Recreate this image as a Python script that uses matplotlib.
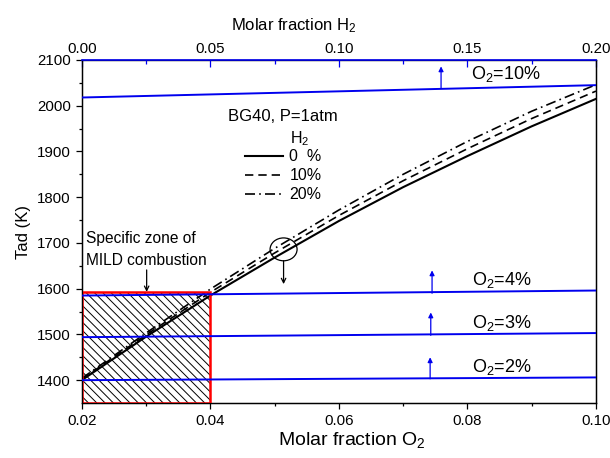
import numpy as np
import matplotlib
matplotlib.use("Agg")
import matplotlib.pyplot as plt
from matplotlib.patches import Rectangle, Ellipse
from matplotlib.lines import Line2D
from matplotlib.collections import LineCollection

plt.rcParams['font.family'] = ['Liberation Sans', 'DejaVu Sans']
plt.rcParams['mathtext.fontset'] = 'custom'
plt.rcParams['mathtext.rm'] = 'Liberation Sans'
plt.rcParams['mathtext.it'] = 'Liberation Sans:italic'

# adiabatic flame temperature vs O2 fraction for three H2 contents
o2 = [0.02, 0.03, 0.04, 0.05, 0.06, 0.07, 0.08, 0.09, 0.10]
tad_h0 = [1400, 1495, 1585, 1668, 1748, 1822, 1890, 1955, 2015]
tad_h10 = [1402, 1499, 1592, 1678, 1760, 1836, 1906, 1972, 2032]
tad_h20 = [1404, 1503, 1599, 1688, 1772, 1850, 1922, 1988, 2046]

# Tad vs H2 fraction at fixed O2 level (top axis)
h2 = [0.0, 0.2]
tad_o2_10 = [2018, 2045]
tad_o2_4 = [1585, 1596]
tad_o2_3 = [1494, 1503]
tad_o2_2 = [1400, 1406]
o2_labels = ['O$_2$=10%', 'O$_2$=4%', 'O$_2$=3%', 'O$_2$=2%']

# MILD combustion zone
zone_o2 = [0.02, 0.04]
zone_tad = [1350, 1592]

BLUE = '#0000ee'

fig = plt.figure(figsize=(6.1, 4.58), dpi=100)
ax = fig.add_axes([0.134, 0.120, 0.843, 0.749])

ax.plot(o2, tad_h0, color='black', lw=1.5, ls='-')
ax.plot(o2, tad_h10, color='black', lw=1.2, ls=(0, (5, 3)))
ax.plot(o2, tad_h20, color='black', lw=1.2, ls=(0, (6, 2.5, 1, 2.5)))

ax.set_xlim(0.02, 0.10)
ax.set_ylim(1350, 2100)
ax.set_xticks([0.02, 0.04, 0.06, 0.08, 0.10])
ax.set_xticks(np.arange(0.03, 0.10, 0.02), minor=True)
ax.set_yticks(np.arange(1400, 2101, 100))
ax.set_yticks(np.arange(1450, 2100, 100), minor=True)
ax.tick_params(axis='both', which='major', direction='out', length=4.5, width=0.9, labelsize=10.8)
ax.tick_params(axis='both', which='minor', direction='out', length=2.5, width=0.9)
ax.tick_params(top=False, right=False)
ax.set_xticklabels(['0.02', '0.04', '0.06', '0.08', '0.10'])
ax.set_xlabel('Molar fraction O$_2$', fontsize=14, labelpad=1)
ax.xaxis.label.set_x(0.525)
ax.set_ylabel('Tad (K)', fontsize=12, labelpad=4)
for s in ax.spines.values():
    s.set_linewidth(1.0)

# MILD zone: red outline, diagonal hatching clipped to it
box = Rectangle((zone_o2[0], zone_tad[0]), zone_o2[1] - zone_o2[0],
                zone_tad[1] - zone_tad[0], fill=False,
                edgecolor='red', lw=1.8, zorder=4)
ax.add_patch(box)
to_inch = ax.transData + fig.dpi_scale_trans.inverted()
(bx0, by0), (bx1, by1) = to_inch.transform([(zone_o2[0], zone_tad[0]),
                                            (zone_o2[1], zone_tad[1])])
bh = by1 - by0
segs = [[(c, by1), (c + bh, by0)] for c in np.arange(bx1, bx0 - bh, -0.083)]
hatch = LineCollection(segs, colors='black', linewidths=0.7,
                       transform=fig.dpi_scale_trans, zorder=1)
ax.add_collection(hatch, autolim=False)
hatch.set_clip_path(box)

# top axis: H2 fraction
ax2 = ax.twiny()
ax2.set_xlim(0.0, 0.2)
for t in [tad_o2_10, tad_o2_4, tad_o2_3, tad_o2_2]:
    ax2.plot(h2, t, color=BLUE, lw=1.4, zorder=3)
ax2.set_xticks([0.0, 0.05, 0.10, 0.15, 0.20])
ax2.set_xticklabels(['0.00', '0.05', '0.10', '0.15', '0.20'])
ax2.set_xticks(np.arange(0.025, 0.2, 0.05), minor=True)
ax2.tick_params(axis='x', which='major', direction='in', length=5, width=0.9,
                color=BLUE, labelsize=10.8, pad=3)
ax2.tick_params(axis='x', which='minor', direction='in', length=3, width=0.9,
                color=BLUE)
ax2.spines['top'].set_color(BLUE)
ax2.spines['top'].set_linewidth(1.2)
ax2.set_xlabel('Molar fraction H$_2$', fontsize=12, labelpad=8)
ax2.xaxis.label.set_x(0.412)

# O2 level labels and blue arrows
label_pos = [(0.0806, 2058), (0.0807, 1607), (0.0807, 1515), (0.0807, 1417)]
arrow_pos = [(0.0759, 2038, 2086), (0.0745, 1590, 1640),
             (0.0743, 1498, 1548), (0.0742, 1403, 1450)]
for (lx, ly), lbl in zip(label_pos, o2_labels):
    ax.text(lx, ly, lbl, fontsize=13, va='baseline', ha='left')
for x, y0, y1 in arrow_pos:
    ax.annotate('', xy=(x, y1), xytext=(x, y0),
                arrowprops=dict(arrowstyle='-|>', color=BLUE, lw=0.9,
                                mutation_scale=7, shrinkA=0, shrinkB=0))

# circle marking the H2 effect, with down arrow
ax.add_patch(Ellipse((0.0514, 1686), 0.0042, 50, fill=False,
                     edgecolor='black', lw=0.9, zorder=5))
ax.annotate('', xy=(0.0514, 1610), xytext=(0.0514, 1661),
            arrowprops=dict(arrowstyle='->', color='black', lw=0.9,
                            mutation_scale=8, shrinkA=0, shrinkB=0))

# zone annotation
ax.text(0.0206, 1700, 'Specific zone of', fontsize=11.2, va='baseline')
ax.text(0.0206, 1652, 'MILD combustion', fontsize=11.2, va='baseline')
ax.annotate('', xy=(0.0301, 1593), xytext=(0.0301, 1641),
            arrowprops=dict(arrowstyle='->', color='black', lw=0.9,
                            mutation_scale=8, shrinkA=0, shrinkB=0))

# legend
ax.text(0.284, 0.834, 'BG40, P=1atm', transform=ax.transAxes, fontsize=12, va='center')
ax.text(0.405, 0.772, 'H$_2$', transform=ax.transAxes, fontsize=11.5, va='center')
handles = [Line2D([], [], color='black', lw=1.5, ls='-'),
           Line2D([], [], color='black', lw=1.2, ls=(0, (5, 3))),
           Line2D([], [], color='black', lw=1.2, ls=(0, (6, 2.5, 1, 2.5)))]
ax.legend(handles, ['0  %', '10%', '20%'], loc='upper left',
          bbox_to_anchor=(0.317, 0.740), frameon=False, borderpad=0,
          borderaxespad=0, handlelength=2.4, handletextpad=0.4,
          labelspacing=0.25, fontsize=11.5)

fig.savefig('out.png', dpi=100)
